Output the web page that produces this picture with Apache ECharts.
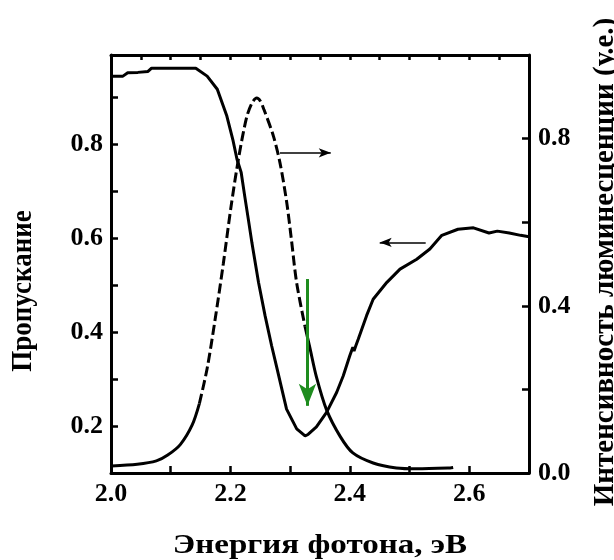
<!DOCTYPE html>
<html>
<head>
<meta charset="utf-8">
<script src="https://cdn.jsdelivr.net/npm/echarts@6/dist/echarts.min.js"></script>
<style>html,body{margin:0;padding:0;background:#fff;}#c{width:614px;height:560px;}</style>
</head>
<body>
<div id="c"></div>
<script>
// Transmission (left axis)
const energyT = [2.000,2.020,2.028,2.045,2.062,2.068,2.100,2.142,2.161,2.178,2.194,2.204,2.211,2.218,2.224,2.230,2.236,2.238,2.247,2.258,2.269,2.277,2.286,2.294,2.311,2.325,2.330,2.344,2.361,2.378,2.389,2.400,2.405,2.407,2.410,2.414,2.428,2.439,2.462,2.484,2.512,2.534,2.554,2.581,2.607,2.633,2.647,2.667,2.686,2.700];
const transmission = [0.945,0.945,0.952,0.953,0.955,0.962,0.962,0.962,0.945,0.917,0.860,0.810,0.768,0.740,0.689,0.640,0.590,0.575,0.506,0.435,0.371,0.328,0.279,0.236,0.194,0.179,0.182,0.198,0.229,0.272,0.307,0.350,0.368,0.360,0.371,0.385,0.435,0.470,0.506,0.534,0.555,0.577,0.606,0.619,0.622,0.611,0.615,0.611,0.606,0.603];
// Luminescence (right axis)
const energyL = [2.001,2.044,2.076,2.095,2.116,2.136,2.148,2.161,2.174,2.188,2.201,2.214,2.227,2.236,2.244,2.250,2.256,2.272,2.283,2.294,2.302,2.311,2.325,2.333,2.344,2.361,2.384,2.405,2.439,2.478,2.512,2.568,2.573];
const luminescence = [0.017,0.021,0.029,0.043,0.068,0.115,0.166,0.250,0.364,0.500,0.637,0.756,0.850,0.885,0.897,0.890,0.870,0.806,0.742,0.650,0.560,0.454,0.350,0.300,0.230,0.151,0.087,0.048,0.024,0.012,0.010,0.012,0.013];
// Tick labels
const xTickLabels = ['2.0','2.2','2.4','2.6'];
const leftTickLabels = ['0.2','0.4','0.6','0.8'];
const rightTickLabels = ['0.0','0.4','0.8'];
// Annotation arrows [from, to]
const arrowToRight = [[2.283,0.766],[2.368,0.766]];   // on luminescence axis
const arrowToLeft = [[2.527,0.591],[2.450,0.591]];    // on transmission axis
const arrowGreen = [[2.329,0.513],[2.329,0.243]];     // on transmission axis

const dashStart = 6, dashEnd = 22;
const lumPairs = energyL.map((e,i)=>[e,luminescence[i]]);
const transPairs = energyT.map((e,i)=>[e,transmission[i]]);

const FONT = '"Liberation Serif","Times New Roman",serif';
const chart = echarts.init(document.getElementById('c'));
const lbl = {fontFamily:FONT,fontWeight:'bold',fontSize:26,color:'#000'};
const blackLine = {color:'#000',width:3};

chart.setOption({
  animation:false,
  backgroundColor:'#fff',
  grid:{left:111,right:85,top:55,bottom:87},
  xAxis:[{
    type:'value',position:'bottom',min:2.0,max:2.7,interval:0.1,
    axisLine:{lineStyle:blackLine},
    axisTick:{inside:true,length:7,lineStyle:{color:'#000',width:2.5}},
    splitLine:{show:false},
    axisLabel:Object.assign({margin:8,formatter:v=>{const s=v.toFixed(1);return xTickLabels.includes(s)?s:'';}},lbl)
  },{
    type:'value',position:'top',min:2.0,max:2.7,interval:0.05,
    axisLine:{lineStyle:blackLine},
    axisTick:{inside:true,length:5,lineStyle:{color:'#000',width:2.5}},
    splitLine:{show:false},axisLabel:{show:false}
  }],
  yAxis:[{
    type:'value',position:'left',min:0.1,max:0.99,interval:0.1,
    axisLine:{show:true,lineStyle:blackLine},
    axisTick:{show:true,inside:true,length:7,lineStyle:{color:'#000',width:2.5}},
    splitLine:{show:false},
    axisLabel:Object.assign({margin:8,formatter:v=>{const s=v.toFixed(1);return leftTickLabels.includes(s)?s:'';}},lbl)
  },{
    type:'value',position:'right',min:0,max:1.0,interval:0.2,
    axisLine:{show:true,lineStyle:blackLine},
    axisTick:{show:true,inside:true,length:7,lineStyle:{color:'#000',width:2.5}},
    splitLine:{show:false},
    axisLabel:Object.assign({margin:9,formatter:v=>{const s=v.toFixed(1);return rightTickLabels.includes(s)?s:'';}},lbl)
  }],
  series:[{
    type:'line',xAxisIndex:0,yAxisIndex:0,data:transPairs,showSymbol:false,
    lineStyle:{color:'#000',width:3},
    markLine:{silent:true,animation:false,label:{show:false},
      data:[
        [{coord:arrowToLeft[0],symbol:'none',lineStyle:{color:'#000',width:1.5,type:'solid'}},{coord:arrowToLeft[1],symbol:'arrow',symbolSize:[7,12]}],
        [{coord:arrowGreen[0],symbol:'none',lineStyle:{color:'#1e8c1e',width:3,type:'solid'}},{coord:arrowGreen[1],symbol:'arrow',symbolSize:[13,22]}]
      ]}
  },{
    type:'line',xAxisIndex:0,yAxisIndex:1,data:lumPairs.slice(0,dashStart+1),showSymbol:false,smooth:0.3,
    lineStyle:{color:'#000',width:3}
  },{
    type:'line',xAxisIndex:0,yAxisIndex:1,data:lumPairs.slice(dashStart,dashEnd+1),showSymbol:false,smooth:0.3,
    lineStyle:{color:'#000',width:3,type:[10,4]},
    markLine:{silent:true,animation:false,label:{show:false},
      data:[
        [{coord:arrowToRight[0],symbol:'none',lineStyle:{color:'#000',width:1.5,type:'solid'}},{coord:arrowToRight[1],symbol:'arrow',symbolSize:[7,12]}]
      ]}
  },{
    type:'line',xAxisIndex:0,yAxisIndex:1,data:lumPairs.slice(dashEnd),showSymbol:false,smooth:0.3,
    lineStyle:{color:'#000',width:3}
  }],
  graphic:[
    {type:'text',x:23,y:291,rotation:Math.PI/2,scaleY:1.1,style:{text:'Пропускание',font:'bold 27px '+FONT,fill:'#000',textAlign:'center',textVerticalAlign:'middle'}},
    {type:'text',x:606,y:262,rotation:Math.PI/2,style:{text:'Интенсивность люминесценции (у.е.)',font:'bold 29px '+FONT,fill:'#000',textAlign:'center',textVerticalAlign:'middle'}},
    {type:'text',x:320,y:546,scaleX:1.18,style:{text:'Энергия фотона, эВ',font:'bold 28px '+FONT,fill:'#000',textAlign:'center',textVerticalAlign:'middle'}}
  ]
});
</script>
</body>
</html>
